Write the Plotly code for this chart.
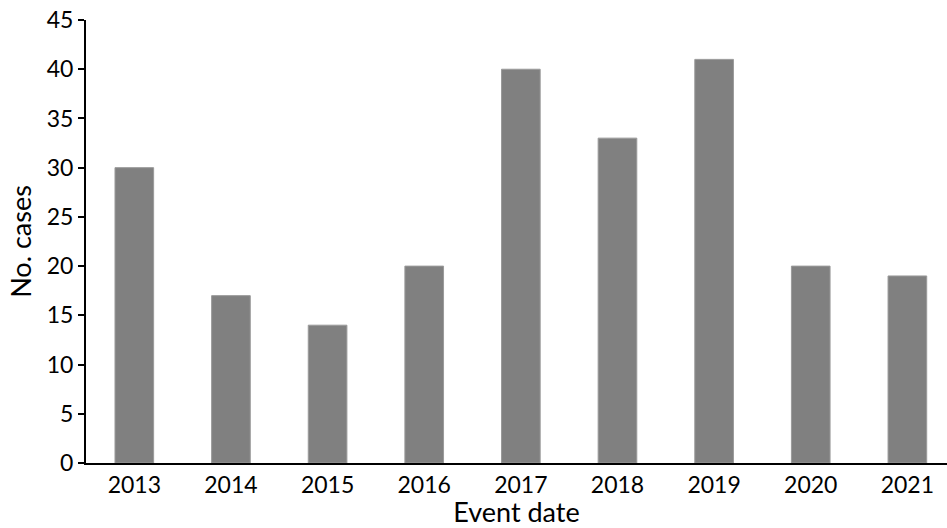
import plotly.graph_objects as go

years = ["2013", "2014", "2015", "2016", "2017", "2018", "2019", "2020", "2021"]
cases = [30, 17, 14, 20, 40, 33, 41, 20, 19]

fig = go.Figure(go.Bar(x=years, y=cases, marker=dict(color="#808080", line=dict(color="#9a9a9a", width=1))))

fig.update_layout(
    width=947, height=528,
    margin=dict(l=86, r=0, t=20, b=65),
    plot_bgcolor="white", paper_bgcolor="white",
    bargap=0.6,
    showlegend=False,
    font=dict(family="Lato", size=23, color="black"),
)
fig.update_xaxes(
    type="category", range=[-0.5, 8.41],
    showline=True, linecolor="black", linewidth=2,
    ticks="", showgrid=False, ticklabelstandoff=0,
    title=dict(text="Event date", font=dict(size=27), standoff=6),
)
fig.update_yaxes(
    range=[0, 45], dtick=5,
    showline=True, linecolor="black", linewidth=2,
    ticks="outside", ticklen=6, tickwidth=2, tickcolor="black",
    showgrid=False, zeroline=False,
    title=dict(text="No. cases", font=dict(size=27), standoff=7),
)

fig.write_html("out.html", config={"displayModeBar": False},
               post_script="document.body.style.margin='0';document.body.style.padding='0';")
